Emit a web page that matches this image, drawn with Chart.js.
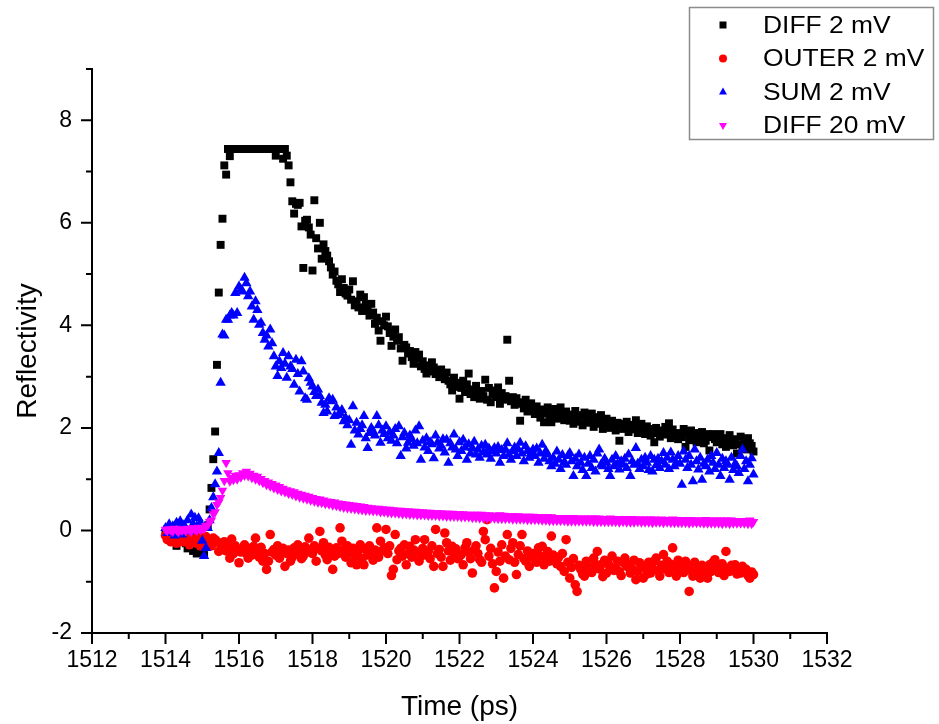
<!DOCTYPE html>
<html>
<head>
<meta charset="utf-8">
<script src="https://cdn.jsdelivr.net/npm/chart.js@4"></script>
<style>
  html, body { margin: 0; padding: 0; background: #fff; }
</style>
</head>
<body>
<canvas id="chart" width="939" height="724"></canvas>
<script>
// sampling times (ps), every 0.05 ps
const times = [
  1514.00,1514.05,1514.10,1514.15,1514.20,1514.25,1514.30,1514.35,1514.40,1514.45,
  1514.50,1514.55,1514.60,1514.65,1514.70,1514.75,1514.80,1514.85,1514.90,1514.95,
  1515.00,1515.05,1515.10,1515.15,1515.20,1515.25,1515.30,1515.35,1515.40,1515.45,
  1515.50,1515.55,1515.60,1515.65,1515.70,1515.75,1515.80,1515.85,1515.90,1515.95,
  1516.00,1516.05,1516.10,1516.15,1516.20,1516.25,1516.30,1516.35,1516.40,1516.45,
  1516.50,1516.55,1516.60,1516.65,1516.70,1516.75,1516.80,1516.85,1516.90,1516.95,
  1517.00,1517.05,1517.10,1517.15,1517.20,1517.25,1517.30,1517.35,1517.40,1517.45,
  1517.50,1517.55,1517.60,1517.65,1517.70,1517.75,1517.80,1517.85,1517.90,1517.95,
  1518.00,1518.05,1518.10,1518.15,1518.20,1518.25,1518.30,1518.35,1518.40,1518.45,
  1518.50,1518.55,1518.60,1518.65,1518.70,1518.75,1518.80,1518.85,1518.90,1518.95,
  1519.00,1519.05,1519.10,1519.15,1519.20,1519.25,1519.30,1519.35,1519.40,1519.45,
  1519.50,1519.55,1519.60,1519.65,1519.70,1519.75,1519.80,1519.85,1519.90,1519.95,
  1520.00,1520.05,1520.10,1520.15,1520.20,1520.25,1520.30,1520.35,1520.40,1520.45,
  1520.50,1520.55,1520.60,1520.65,1520.70,1520.75,1520.80,1520.85,1520.90,1520.95,
  1521.00,1521.05,1521.10,1521.15,1521.20,1521.25,1521.30,1521.35,1521.40,1521.45,
  1521.50,1521.55,1521.60,1521.65,1521.70,1521.75,1521.80,1521.85,1521.90,1521.95,
  1522.00,1522.05,1522.10,1522.15,1522.20,1522.25,1522.30,1522.35,1522.40,1522.45,
  1522.50,1522.55,1522.60,1522.65,1522.70,1522.75,1522.80,1522.85,1522.90,1522.95,
  1523.00,1523.05,1523.10,1523.15,1523.20,1523.25,1523.30,1523.35,1523.40,1523.45,
  1523.50,1523.55,1523.60,1523.65,1523.70,1523.75,1523.80,1523.85,1523.90,1523.95,
  1524.00,1524.05,1524.10,1524.15,1524.20,1524.25,1524.30,1524.35,1524.40,1524.45,
  1524.50,1524.55,1524.60,1524.65,1524.70,1524.75,1524.80,1524.85,1524.90,1524.95,
  1525.00,1525.05,1525.10,1525.15,1525.20,1525.25,1525.30,1525.35,1525.40,1525.45,
  1525.50,1525.55,1525.60,1525.65,1525.70,1525.75,1525.80,1525.85,1525.90,1525.95,
  1526.00,1526.05,1526.10,1526.15,1526.20,1526.25,1526.30,1526.35,1526.40,1526.45,
  1526.50,1526.55,1526.60,1526.65,1526.70,1526.75,1526.80,1526.85,1526.90,1526.95,
  1527.00,1527.05,1527.10,1527.15,1527.20,1527.25,1527.30,1527.35,1527.40,1527.45,
  1527.50,1527.55,1527.60,1527.65,1527.70,1527.75,1527.80,1527.85,1527.90,1527.95,
  1528.00,1528.05,1528.10,1528.15,1528.20,1528.25,1528.30,1528.35,1528.40,1528.45,
  1528.50,1528.55,1528.60,1528.65,1528.70,1528.75,1528.80,1528.85,1528.90,1528.95,
  1529.00,1529.05,1529.10,1529.15,1529.20,1529.25,1529.30,1529.35,1529.40,1529.45,
  1529.50,1529.55,1529.60,1529.65,1529.70,1529.75,1529.80,1529.85,1529.90,1529.95,
  1530.00
];

const diff2mV = [
  -0.05,0.02,-0.12,-0.20,-0.08,-0.15,-0.30,-0.10,-0.22,-0.05,
  -0.18,-0.25,-0.35,-0.12,-0.28,-0.40,-0.20,-0.45,-0.30,-0.15,
  -0.38,-0.48,-0.25,0.10,0.41,0.83,1.39,1.93,3.23,4.64,
  5.57,6.08,7.12,6.94,7.44,7.30,7.44,7.44,7.44,7.44,
  7.44,7.44,7.44,7.44,7.44,7.44,7.44,7.44,7.44,7.44,
  7.44,7.44,7.44,7.44,7.44,7.44,7.44,7.44,7.44,7.44,
  7.31,7.44,7.44,7.44,7.25,7.44,7.31,7.12,6.79,6.42,
  6.18,6.37,6.35,6.39,5.93,5.12,6.04,6.06,5.91,5.77,
  5.07,6.44,5.70,5.50,6.00,5.30,5.58,5.45,5.36,5.25,
  5.13,4.99,5.05,4.87,4.80,4.65,4.90,4.73,4.62,4.58,
  4.70,4.50,4.86,4.39,4.47,4.35,4.60,4.28,4.55,4.40,
  4.32,4.19,4.42,4.25,4.03,4.15,3.90,3.70,4.08,4.00,
  4.17,3.98,3.85,3.60,3.78,3.92,3.70,3.77,3.55,3.31,
  3.62,3.57,3.45,3.50,3.38,3.25,3.48,3.35,3.43,3.20,
  3.30,3.15,3.06,3.22,3.10,3.28,3.18,3.05,3.12,2.99,
  3.14,3.02,2.95,3.08,2.92,2.85,2.73,2.98,2.80,2.88,
  2.57,2.78,2.92,2.70,2.85,3.06,2.66,2.75,2.60,2.82,
  2.68,2.57,2.72,2.62,2.94,2.55,2.78,2.50,2.65,2.73,
  2.60,2.79,2.47,2.68,2.55,2.62,3.72,2.92,2.52,2.60,
  2.45,2.58,2.47,2.14,2.50,2.38,2.55,2.32,2.41,2.48,
  2.35,2.27,2.42,2.30,2.20,2.36,2.11,2.28,2.40,2.22,
  2.11,2.30,2.37,2.25,2.18,2.40,2.28,2.15,2.32,2.20,
  2.14,2.26,2.08,2.33,2.20,2.12,2.25,2.05,2.30,2.17,
  2.22,2.10,2.28,2.02,2.21,2.15,2.08,2.25,1.98,2.12,
  2.18,2.05,2.00,2.14,2.05,1.95,2.10,1.75,2.08,1.98,
  2.02,2.12,1.92,2.06,1.97,2.05,2.15,1.90,2.00,2.08,
  1.95,1.88,2.03,1.92,1.85,1.98,1.72,2.00,1.90,1.83,
  1.95,1.87,2.02,1.93,2.09,1.80,1.97,1.85,1.88,1.78,
  1.90,1.82,1.98,1.63,1.88,1.76,1.95,1.84,1.90,1.72,
  1.85,1.80,1.92,1.70,1.75,1.88,1.56,1.82,1.88,1.78,
  1.72,1.84,1.88,1.68,1.80,1.63,1.75,1.86,1.70,1.66,
  1.78,1.50,1.68,1.83,1.62,1.74,1.58,1.80,1.70,1.65,
  1.54
];

const outer2mV = [
  -0.10,-0.18,-0.05,-0.22,-0.12,-0.15,-0.25,-0.08,-0.20,-0.14,
  -0.22,-0.10,-0.18,-0.28,-0.12,-0.20,-0.15,-0.25,-0.10,-0.30,
  -0.18,-0.22,-0.12,-0.28,-0.20,-0.30,-0.15,-0.18,-0.22,-0.41,
  -0.28,-0.35,-0.22,-0.40,-0.32,-0.54,-0.17,-0.45,-0.30,-0.38,
  -0.63,-0.42,-0.37,-0.28,-0.45,-0.54,-0.35,-0.48,-0.31,-0.15,
  -0.40,-0.52,-0.33,-0.60,-0.45,-0.76,-0.60,-0.08,-0.42,-0.37,
  -0.48,-0.30,-0.54,-0.42,-0.35,-0.70,-0.45,-0.38,-0.60,-0.52,
  -0.34,-0.45,-0.28,-0.40,-0.55,-0.50,-0.32,-0.42,-0.15,-0.38,
  -0.45,-0.30,-0.60,-0.35,-0.02,-0.40,-0.24,-0.48,-0.57,-0.33,
  -0.42,-0.76,-0.50,-0.34,-0.45,0.05,-0.21,-0.38,-0.52,-0.30,
  -0.44,-0.63,-0.35,-0.50,-0.67,-0.40,-0.28,-0.55,-0.67,-0.36,
  -0.48,-0.30,-0.44,-0.58,-0.38,0.05,-0.52,-0.21,-0.40,-0.34,
  0.02,-0.45,-0.30,-0.88,-0.76,-0.08,-0.57,-0.40,-0.35,-0.50,
  -0.28,-0.67,-0.45,-0.31,-0.52,-0.38,-0.18,-0.42,-0.60,-0.50,
  -0.35,-0.18,-0.48,-0.41,-0.55,-0.30,-0.70,0.02,-0.45,-0.37,
  -0.52,-0.70,-0.05,-0.24,-0.40,-0.58,-0.31,-0.45,-0.36,-0.55,
  -0.50,-0.47,-0.67,-0.34,-0.24,-0.42,-0.55,-0.83,-0.38,-0.30,
  -0.45,-0.57,-0.62,-0.02,-0.18,0.21,-0.50,-0.35,-0.65,-1.12,
  -0.80,-0.42,-0.60,-0.28,-0.93,-0.50,-0.08,-0.57,-0.35,-0.24,
  -0.62,-0.86,-0.47,-0.30,-0.08,-0.55,-0.60,-0.40,-0.70,-0.52,
  -0.45,-0.47,-0.62,-0.34,-0.50,-0.31,-0.67,-0.55,-0.41,-0.60,
  -0.11,-0.48,-0.57,-0.65,-0.52,-0.70,-0.45,-0.80,-0.18,-0.62,
  -0.93,-0.72,-0.55,-1.06,-1.19,-0.68,-0.76,-0.85,-0.89,-0.60,
  -0.70,-0.76,-0.82,-0.54,-0.66,-0.41,-0.75,-0.67,-0.90,-0.58,
  -0.83,-0.65,-0.72,-0.50,-0.78,-0.73,-0.60,-0.80,-0.88,-0.62,
  -0.54,-0.70,-0.66,-0.83,-0.75,-0.58,-0.96,-0.80,-0.63,-0.72,
  -0.93,-0.70,-0.85,-0.62,-0.83,-0.74,-0.60,-0.54,-0.78,-0.89,
  -0.68,-0.47,-0.75,-0.60,-0.82,-0.66,-0.34,-0.72,-0.89,-0.58,
  -0.76,-0.65,-0.82,-0.60,-0.70,-1.19,-0.78,-0.89,-0.62,-0.83,
  -0.75,-0.93,-0.68,-0.85,-0.72,-0.93,-0.67,-0.80,-0.62,-0.57,
  -0.70,-0.82,-0.73,-0.65,-0.88,-0.41,-0.76,-0.80,-0.68,-0.72,
  -0.67,-0.85,-0.74,-0.83,-0.70,-0.78,-0.76,-0.88,-0.93,-0.81,
  -0.86
];

const sum2mV = [
  0.05,-0.05,0.12,0.00,0.08,-0.10,0.15,0.02,0.18,-0.08,
  0.10,0.05,0.20,-0.02,0.31,0.12,0.25,0.08,0.24,0.15,
  -0.20,-0.50,-0.34,0.05,0.20,0.44,0.65,0.90,1.15,1.51,
  2.88,3.82,3.80,4.11,4.11,4.19,4.24,4.19,4.63,4.24,
  4.76,4.70,4.66,4.93,4.82,4.57,4.66,4.37,4.11,4.47,
  4.30,4.01,4.05,3.85,3.72,3.80,3.59,3.92,3.65,3.40,
  3.20,3.01,3.30,3.17,3.46,3.25,2.98,3.40,3.20,3.15,
  2.84,3.33,3.05,2.71,3.30,3.10,2.58,2.55,2.97,2.88,
  2.81,2.70,2.62,2.75,2.62,2.49,2.29,2.45,2.32,2.58,
  2.52,2.55,2.23,2.40,2.25,2.29,2.35,2.13,2.20,2.05,
  2.15,1.67,2.42,1.95,2.10,1.87,1.98,2.05,2.23,1.80,
  1.61,1.90,2.00,1.93,1.85,2.23,2.05,1.71,1.95,1.88,
  2.03,1.80,1.92,1.75,1.85,1.98,1.70,2.03,1.45,1.82,
  1.90,1.60,1.71,1.85,1.78,1.65,1.95,1.70,2.03,1.38,
  1.75,1.62,1.80,1.55,1.72,1.68,1.41,1.85,1.71,1.60,
  1.65,1.78,1.52,1.77,1.32,1.70,1.62,1.87,1.58,1.45,
  1.72,1.55,1.77,1.62,1.38,1.68,1.50,1.61,1.73,1.48,
  1.58,1.42,1.65,1.52,1.67,1.48,1.60,1.40,1.55,1.61,
  1.50,1.63,1.32,1.57,1.45,1.58,1.70,1.48,1.38,1.55,
  1.62,1.45,1.58,1.71,1.50,1.35,1.64,1.55,1.42,1.51,
  1.58,1.45,1.60,1.32,1.50,1.67,1.40,1.55,1.48,1.35,
  1.25,1.42,1.30,1.54,1.38,1.20,1.47,1.33,1.28,1.45,
  1.51,1.35,1.06,1.40,1.25,1.48,1.32,1.18,1.42,1.06,
  1.30,1.45,1.22,1.38,1.15,1.50,1.58,1.28,1.25,1.40,
  1.32,1.20,1.06,1.38,1.25,1.45,1.30,1.19,1.35,1.28,
  1.40,1.22,1.48,1.06,1.35,1.28,1.61,1.30,1.20,1.38,
  1.25,1.42,1.32,1.18,1.45,1.15,1.38,1.27,1.40,1.22,
  1.35,1.51,1.28,1.42,1.20,1.52,1.38,1.25,1.32,1.45,
  1.30,0.89,1.54,1.38,1.22,1.45,1.28,0.96,1.58,1.35,
  1.19,1.42,0.99,1.30,1.25,1.38,1.15,1.45,1.32,1.20,
  1.51,1.28,1.06,1.40,1.22,1.35,1.28,0.99,1.42,1.18,
  1.30,1.25,1.12,1.45,1.58,1.20,1.35,0.96,1.28,1.41,
  1.09
];

const diff20mV = [
  0.02,-0.01,0.03,0.00,-0.02,0.04,0.01,-0.03,0.02,0.00,
  0.03,-0.01,0.04,0.01,-0.02,0.05,0.02,0.00,0.06,0.01,
  0.05,0.03,0.09,0.10,0.17,0.20,0.32,0.36,0.50,0.55,
  0.64,0.78,0.97,1.32,1.12,0.96,1.03,0.99,1.07,1.00,
  1.08,1.04,1.12,1.07,1.15,1.06,1.11,1.03,1.07,1.00,
  1.05,0.97,1.01,0.93,0.97,0.89,0.94,0.86,0.91,0.83,
  0.88,0.80,0.85,0.77,0.82,0.75,0.79,0.72,0.77,0.70,
  0.75,0.67,0.72,0.65,0.70,0.63,0.68,0.61,0.66,0.59,
  0.64,0.57,0.62,0.55,0.61,0.54,0.59,0.52,0.57,0.51,
  0.56,0.49,0.55,0.48,0.53,0.46,0.52,0.45,0.51,0.44,
  0.50,0.43,0.49,0.42,0.48,0.41,0.47,0.40,0.46,0.39,
  0.45,0.39,0.44,0.38,0.43,0.38,0.43,0.36,0.42,0.36,
  0.41,0.35,0.41,0.34,0.40,0.34,0.39,0.33,0.39,0.32,
  0.38,0.32,0.38,0.31,0.37,0.31,0.37,0.30,0.36,0.30,
  0.36,0.30,0.35,0.29,0.35,0.29,0.34,0.29,0.34,0.28,
  0.34,0.28,0.33,0.27,0.33,0.27,0.33,0.27,0.32,0.27,
  0.32,0.26,0.32,0.26,0.31,0.26,0.31,0.25,0.31,0.25,
  0.31,0.24,0.31,0.24,0.30,0.24,0.30,0.24,0.29,0.24,
  0.29,0.23,0.30,0.23,0.29,0.23,0.28,0.23,0.28,0.22,
  0.28,0.22,0.28,0.22,0.27,0.22,0.27,0.21,0.27,0.21,
  0.27,0.21,0.26,0.21,0.26,0.20,0.26,0.20,0.26,0.19,
  0.26,0.19,0.25,0.19,0.25,0.19,0.25,0.19,0.25,0.18,
  0.25,0.18,0.25,0.18,0.24,0.18,0.24,0.18,0.24,0.18,
  0.24,0.18,0.24,0.17,0.24,0.17,0.24,0.17,0.23,0.17,
  0.23,0.17,0.24,0.17,0.23,0.17,0.23,0.16,0.23,0.17,
  0.23,0.16,0.23,0.16,0.23,0.16,0.22,0.17,0.22,0.16,
  0.22,0.16,0.22,0.16,0.22,0.15,0.22,0.16,0.21,0.16,
  0.22,0.15,0.21,0.16,0.21,0.15,0.22,0.15,0.21,0.15,
  0.21,0.15,0.21,0.15,0.21,0.14,0.21,0.15,0.20,0.15,
  0.20,0.15,0.20,0.14,0.21,0.14,0.20,0.14,0.20,0.14,
  0.20,0.14,0.20,0.13,0.20,0.14,0.20,0.13,0.20,0.14,
  0.19,0.14,0.19,0.14,0.19,0.14,0.19,0.13,0.20,0.13,
  0.17
];

const seriesNames = ['DIFF 2 mV', 'OUTER 2 mV', 'SUM 2 mV', 'DIFF 20 mV'];
const xTicks = [1512, 1514, 1516, 1518, 1520, 1522, 1524, 1526, 1528, 1530, 1532];
const yTicks = [-2, 0, 2, 4, 6, 8];

const pts = vals => vals.map((v, i) => ({ x: times[i], y: v }));

const tickFont = { family: "'Liberation Sans', Arial, sans-serif", size: 23 };

// markers drawn by hand for the legend
function marker(ctx, kind, x, y, color) {
  ctx.fillStyle = color;
  ctx.beginPath();
  if (kind === 'rect') {
    ctx.rect(x - 3.5, y - 3.5, 7, 7);
  } else if (kind === 'circle') {
    ctx.arc(x, y, 4, 0, Math.PI * 2);
  } else if (kind === 'up') {
    ctx.moveTo(x, y - 4.5); ctx.lineTo(x + 4, y + 2.5); ctx.lineTo(x - 4, y + 2.5);
  } else {
    ctx.moveTo(x, y + 4.5); ctx.lineTo(x + 4, y - 2.5); ctx.lineTo(x - 4, y - 2.5);
  }
  ctx.closePath();
  ctx.fill();
}

const decor = {
  id: 'decor',
  afterDraw(chart) {
    const ctx = chart.ctx;
    const a = chart.chartArea;
    const xs = chart.scales.x, ys = chart.scales.y;
    ctx.save();
    ctx.strokeStyle = '#000';
    ctx.lineWidth = 2;
    ctx.lineCap = 'square';
    ctx.beginPath();
    ctx.moveTo(a.left, a.top);
    ctx.lineTo(a.left, a.bottom);
    ctx.lineTo(a.right, a.bottom);
    ctx.stroke();

    // major + minor ticks (minor halfway between majors)
    ctx.lineCap = 'butt';
    ctx.beginPath();
    xTicks.forEach((v, i) => {
      const px = xs.getPixelForValue(v);
      ctx.moveTo(px, a.bottom); ctx.lineTo(px, a.bottom + 11);
      if (i < xTicks.length - 1) {
        const mx = xs.getPixelForValue((v + xTicks[i + 1]) / 2);
        ctx.moveTo(mx, a.bottom); ctx.lineTo(mx, a.bottom + 6);
      }
    });
    yTicks.forEach(v => {
      const py = ys.getPixelForValue(v);
      ctx.moveTo(a.left, py); ctx.lineTo(a.left - 11, py);
      const my = ys.getPixelForValue(v + 1);
      ctx.moveTo(a.left, my); ctx.lineTo(a.left - 6, my);
    });
    ctx.stroke();

    // axis titles
    ctx.fillStyle = '#000';
    ctx.font = "28px 'Liberation Sans', Arial, sans-serif";
    ctx.textAlign = 'center';
    ctx.textBaseline = 'middle';
    ctx.fillText('Time (ps)', (a.left + a.right) / 2, 707);
    ctx.save();
    ctx.translate(28, (a.top + a.bottom) / 2);
    ctx.rotate(-Math.PI / 2);
    ctx.fillText('Reflectivity', 0, 0);
    ctx.restore();

    // legend box
    ctx.strokeStyle = '#8c8c8c';
    ctx.lineWidth = 1.5;
    ctx.strokeRect(689.5, 7.5, 244, 132);
    ctx.font = "24px 'Liberation Sans', Arial, sans-serif";
    ctx.textAlign = 'left';
    const kinds = ['rect', 'circle', 'up', 'down'];
    chart.data.datasets.forEach((ds, i) => {
      const y = 25 + i * 33.5;
      marker(ctx, kinds[i], 723, y, ds.backgroundColor);
      ctx.save();
      ctx.translate(763, y + 1);
      ctx.scale(1.1, 1);
      ctx.fillStyle = '#000';
      ctx.fillText(ds.label, 0, 0);
      ctx.restore();
    });
    ctx.restore();
  }
};

new Chart(document.getElementById('chart'), {
  type: 'scatter',
  data: {
    datasets: [
      { label: seriesNames[0], data: pts(diff2mV), backgroundColor: '#000000', pointStyle: 'rect', pointRadius: 5.6, pointBorderWidth: 0, order: 4 },
      { label: seriesNames[1], data: pts(outer2mV), backgroundColor: '#ff0000', pointStyle: 'circle', pointRadius: 4.8, pointBorderWidth: 0, order: 3 },
      { label: seriesNames[2], data: pts(sum2mV), backgroundColor: '#0000ff', pointStyle: 'triangle', pointRadius: 6, pointBorderWidth: 0, order: 2 },
      { label: seriesNames[3], data: pts(diff20mV), backgroundColor: '#ff00ff', pointStyle: 'triangle', pointRotation: 180, pointRadius: 5.5, pointBorderWidth: 0, order: 1 }
    ]
  },
  options: {
    responsive: false,
    animation: false,
    events: [],
    layout: { padding: { left: 0, top: 69, right: 112, bottom: 0 } },
    plugins: { legend: { display: false }, tooltip: { enabled: false } },
    scales: {
      x: {
        type: 'linear', min: 1512, max: 1532,
        grid: { display: false, drawTicks: false },
        border: { display: false },
        ticks: { font: tickFont, color: '#000', padding: 14, autoSkip: false, maxRotation: 0, callback: v => String(v) },
        afterBuildTicks: s => { s.ticks = xTicks.map(v => ({ value: v })); },
        afterFit: s => { s.height = 91; }
      },
      y: {
        type: 'linear', min: -2, max: 9,
        grid: { display: false, drawTicks: false },
        border: { display: false },
        ticks: { font: tickFont, color: '#000', padding: 20, autoSkip: false, callback: v => String(v) },
        afterBuildTicks: s => { s.ticks = yTicks.map(v => ({ value: v })); },
        afterFit: s => { s.width = 92; }
      }
    }
  },
  plugins: [decor]
});
</script>
</body>
</html>
